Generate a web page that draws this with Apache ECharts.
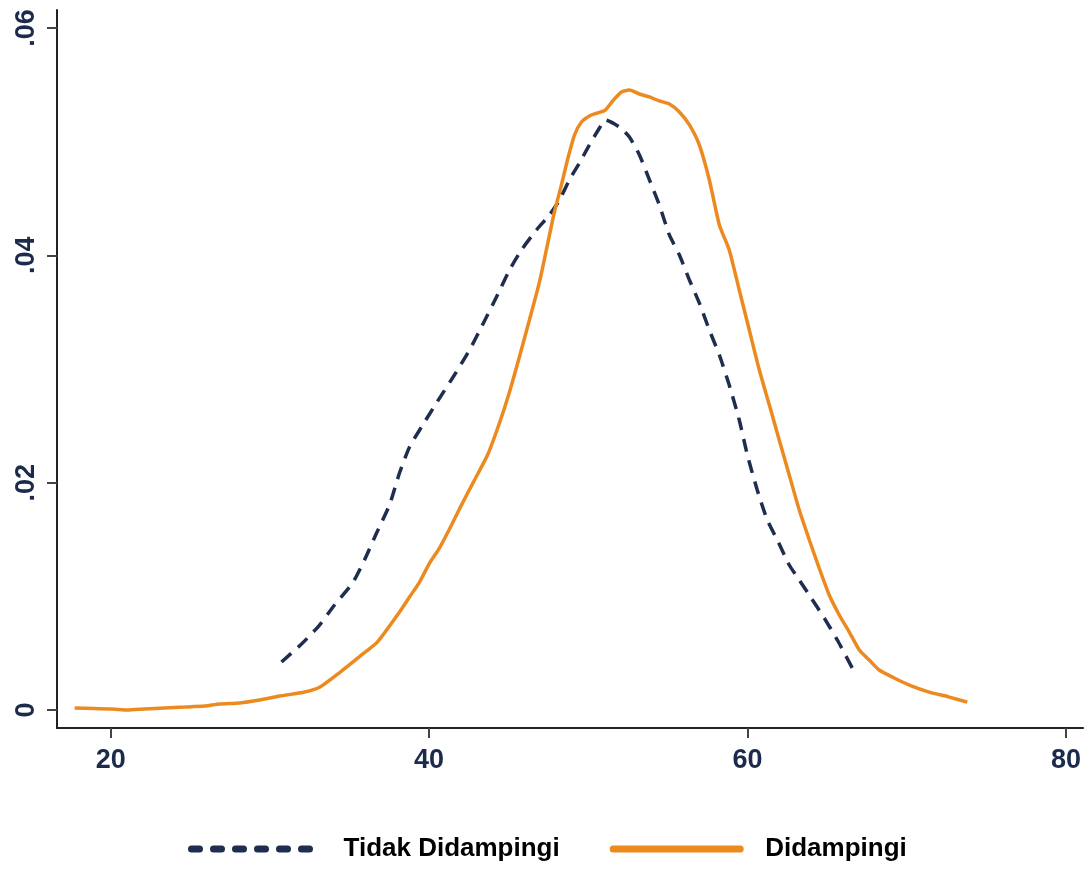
<!DOCTYPE html>
<html>
<head>
<meta charset="utf-8">
<script src="https://cdn.jsdelivr.net/npm/echarts@6/dist/echarts.min.js"></script>
<style>html,body{margin:0;padding:0;background:#fff}#c{width:1084px;height:871px}</style>
</head>
<body>
<div id="c"></div>
<script>
const seriesNames = ["Tidak Didampingi", "Didampingi"];
const xTicks = [20, 40, 60, 80];
const yTicks = [0, 0.02, 0.04, 0.06];
const yTickLabels = ["0", ".02", ".04", ".06"];

const tidakX = [30.73,32.05,33.12,34.06,35.19,35.94,36.70,37.51,38.14,38.77,39.52,40.46,41.59,42.54,43.35,44.23,45.05,45.80,46.74,47.56,48.19,48.81,49.44,50.07,50.70,51.07,51.95,52.58,53.21,53.84,54.46,55.09,55.72,56.35,56.97,57.60,58.23,58.85,59.48,59.99,60.61,61.24,61.87,62.62,63.25,64.00,64.82,65.64,66.58];
const tidakY = [0.00422,0.00589,0.00748,0.00924,0.01117,0.01320,0.01557,0.01803,0.02085,0.02314,0.02490,0.02701,0.02947,0.03167,0.03387,0.03633,0.03871,0.04047,0.04223,0.04355,0.04487,0.04663,0.04812,0.04971,0.05120,0.05190,0.05129,0.05041,0.04883,0.04663,0.04443,0.04179,0.04003,0.03783,0.03581,0.03343,0.03123,0.02859,0.02551,0.02243,0.01935,0.01672,0.01496,0.01276,0.01144,0.00985,0.00809,0.00616,0.00369];

const dampX = [17.74,19.00,20.13,21.07,22.13,23.39,24.65,25.90,26.84,28.10,29.35,30.61,32.18,33.12,34.38,35.63,36.76,38.14,38.77,39.40,40.03,40.65,41.41,42.03,42.85,43.67,44.42,45.05,45.67,46.30,46.93,47.43,47.87,48.31,48.69,49.13,49.57,50.07,50.57,51.07,51.58,52.08,52.58,53.21,53.84,54.46,55.09,55.72,56.35,56.97,57.60,58.23,58.85,59.48,60.11,60.74,61.37,61.99,62.62,63.25,63.88,64.50,65.13,65.76,66.39,67.02,67.64,68.27,69.21,70.16,71.41,72.67,73.80];
const dampY = [0.00018,0.00013,0.00009,0.00000,0.00009,0.00018,0.00026,0.00035,0.00053,0.00062,0.00088,0.00123,0.00158,0.00200,0.00330,0.00470,0.00600,0.00862,0.00994,0.01126,0.01293,0.01425,0.01628,0.01803,0.02023,0.02243,0.02525,0.02798,0.03105,0.03431,0.03765,0.04091,0.04381,0.04619,0.04839,0.05058,0.05173,0.05226,0.05252,0.05278,0.05366,0.05437,0.05454,0.05419,0.05393,0.05358,0.05331,0.05261,0.05147,0.04971,0.04663,0.04267,0.04047,0.03695,0.03343,0.02991,0.02683,0.02375,0.02068,0.01759,0.01496,0.01249,0.01012,0.00836,0.00686,0.00528,0.00440,0.00352,0.00282,0.00220,0.00158,0.00114,0.00070];

const zip = (xs, ys) => xs.map((x, i) => [x, ys[i]]);
const labelColor = '#1c2b4b';
const chart = echarts.init(document.getElementById('c'), null, {renderer: 'canvas'});
chart.setOption({
  animation: false,
  backgroundColor: '#ffffff',
  grid: {left: 57, top: 10, right: 0, bottom: 143, containLabel: false},
  xAxis: {
    type: 'value', min: 16.63, max: 81.07,
    splitLine: {show: false},
    axisLine: {show: true, onZero: false, lineStyle: {color: '#222', width: 2}},
    axisTick: {show: true, length: 10, lineStyle: {color: '#444', width: 2}, customValues: xTicks},
    axisLabel: {customValues: xTicks, color: labelColor, fontFamily: 'Liberation Sans, Arial', fontWeight: 'bold', fontSize: 27, margin: 19}
  },
  yAxis: {
    type: 'value', min: -0.00158, max: 0.06158,
    splitLine: {show: false},
    axisLine: {show: true, onZero: false, lineStyle: {color: '#222', width: 2}},
    axisTick: {show: true, length: 10, lineStyle: {color: '#444', width: 2}, customValues: yTicks},
    axisLabel: {customValues: yTicks, rotate: 90, color: labelColor, fontFamily: 'Liberation Sans, Arial', fontWeight: 'bold', fontSize: 27, margin: 17,
      formatter: v => { const i = yTicks.findIndex(t => Math.abs(t - v) < 1e-9); return i >= 0 ? yTickLabels[i] : ''; }}
  },
  legend: {
    bottom: 4, left: 183,
    itemWidth: 127, itemHeight: 14, itemGap: 50,
    itemStyle: {opacity: 0},
    textStyle: {color: '#000', fontFamily: 'Liberation Sans, Arial', fontWeight: 'bold', fontSize: 26, padding: [0, 0, 0, 20]},
    data: [
      {name: seriesNames[0], itemStyle: {opacity: 0}, lineStyle: {width: 7, cap: 'round', type: [8, 14]}},
      {name: seriesNames[1], itemStyle: {opacity: 0}, lineStyle: {width: 7, cap: 'round'}}
    ]
  },
  series: [
    {name: seriesNames[0], type: 'line', data: zip(tidakX, tidakY), showSymbol: false, symbol: 'none', smooth: 0.2,
     lineStyle: {color: '#1f2d4e', width: 3.5, type: [13, 9]}, itemStyle: {color: '#1f2d4e'}},
    {name: seriesNames[1], type: 'line', data: zip(dampX, dampY), showSymbol: false, symbol: 'none', smooth: 0.2,
     lineStyle: {color: '#ec8a1f', width: 3.5}, itemStyle: {color: '#f28a26'}}
  ]
});
</script>
</body>
</html>
